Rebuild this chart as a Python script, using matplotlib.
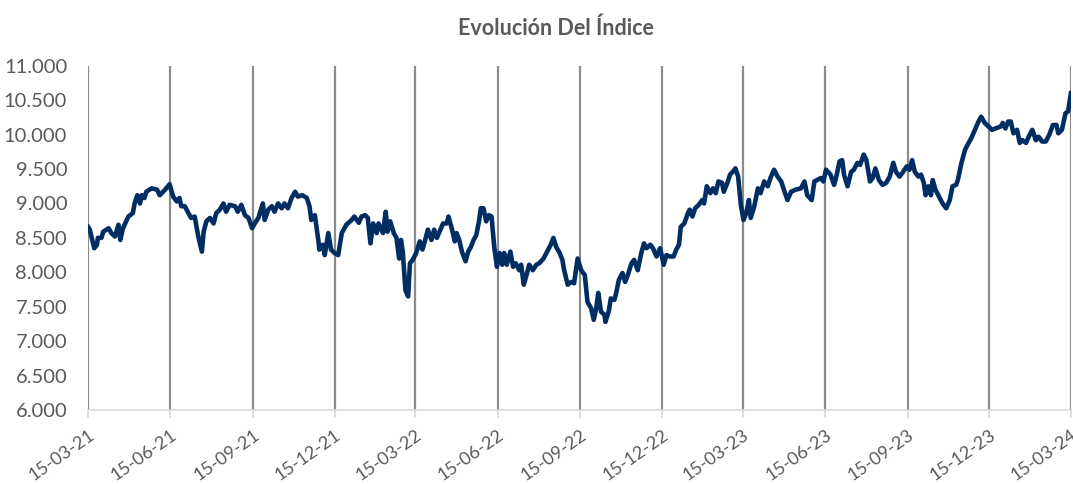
import matplotlib
matplotlib.use("Agg")
import matplotlib.pyplot as plt
from matplotlib.ticker import FuncFormatter
import pandas as pd

start_date = "2021-03-15"
end_date = "2024-03-15"

# days after 15-03-21
days = [0, 2, 7, 10, 11, 15, 17, 23, 26, 30, 34, 36, 39, 45, 50, 52, 55, 58, 60, 63,
        65, 71, 77, 80, 86, 91, 95, 99, 102, 104, 108, 112, 115, 119, 123, 127, 129, 132, 136, 140,
        143, 147, 151, 154, 158, 164, 167, 171, 175, 179, 183, 186, 190, 195, 197, 201, 205, 208, 212, 216,
        219, 223, 227, 231, 234, 239, 244, 247, 249, 253, 257, 258, 262, 264, 268, 271, 275, 279, 283, 288,
        294, 297, 302, 305, 309, 312, 315, 318, 322, 324, 329, 332, 334, 337, 341, 344, 347, 349, 351, 354,
        357, 359, 362, 366, 370, 373, 376, 379, 383, 386, 389, 392, 396, 400, 402, 406, 409, 411, 414, 417,
        421, 424, 427, 430, 433, 436, 438, 441, 444, 447, 450, 453, 456, 459, 462, 464, 467, 471, 474, 477,
        481, 483, 486, 489, 492, 496, 500, 503, 508, 512, 516, 519, 522, 526, 529, 531, 535, 539, 542, 546,
        550, 554, 557, 561, 564, 567, 569, 572, 576, 577, 581, 583, 587, 589, 592, 596, 599, 602, 606, 609,
        613, 617, 620, 623, 627, 630, 634, 638, 642, 645, 649, 653, 656, 659, 661, 665, 669, 671, 674, 677,
        681, 685, 687, 690, 694, 697, 700, 703, 707, 709, 713, 716, 719, 722, 725, 728, 731, 734, 737, 739,
        743, 747, 750, 754, 758, 761, 765, 769, 773, 776, 780, 784, 789, 795, 799, 802, 807, 810, 813, 817,
        820, 823, 828, 832, 835, 838, 841, 843, 847, 851, 854, 858, 861, 865, 868, 872, 875, 878, 882, 886,
        890, 894, 898, 901, 905, 909, 913, 916, 919, 922, 926, 929, 932, 934, 937, 940, 942, 945, 949, 953,
        957, 961, 964, 968, 970, 974, 978, 982, 985, 989, 993, 996, 1000, 1004, 1008, 1012, 1018, 1020, 1023, 1026,
        1029, 1032, 1036, 1039, 1042, 1046, 1049, 1053, 1057, 1060, 1064, 1068, 1072, 1076, 1080, 1082, 1086, 1090, 1093, 1096]

values = [8660, 8620, 8350, 8400, 8500, 8500, 8590, 8640, 8570, 8520, 8690, 8470, 8640, 8810, 8860, 9000, 9120, 9000, 9120, 9080,
          9170, 9220, 9200, 9120, 9200, 9280, 9100, 9030, 9080, 8960, 8960, 8860, 8790, 8810, 8520, 8300, 8590, 8740, 8790, 8710,
          8860, 8910, 9000, 8880, 8980, 8960, 8880, 8980, 8830, 8790, 8640, 8710, 8790, 9000, 8760, 8910, 8960, 8880, 9000, 8930,
          9000, 8930, 9080, 9170, 9100, 9120, 9080, 8960, 8760, 8830, 8450, 8330, 8400, 8250, 8570, 8330, 8280, 8250, 8570, 8690,
          8760, 8810, 8720, 8810, 8830, 8790, 8420, 8710, 8570, 8710, 8570, 8880, 8590, 8740, 8570, 8500, 8200, 8470, 8300, 7740,
          7650, 8130, 8180, 8280, 8450, 8330, 8470, 8620, 8470, 8620, 8500, 8590, 8710, 8710, 8810, 8620, 8450, 8570, 8470, 8300,
          8160, 8300, 8370, 8470, 8540, 8740, 8930, 8930, 8740, 8830, 8810, 8370, 8080, 8280, 8110, 8280, 8110, 8300, 8080, 8130,
          8030, 8110, 7820, 7960, 8110, 8030, 8110, 8130, 8200, 8300, 8400, 8500, 8370, 8280, 8180, 8030, 7820, 7860, 7840, 8200,
          8030, 7960, 7570, 7480, 7310, 7500, 7700, 7430, 7380, 7280, 7450, 7620, 7600, 7700, 7890, 7990, 7860, 7960, 8130, 8180,
          8030, 8280, 8420, 8350, 8400, 8350, 8230, 8350, 8110, 8250, 8230, 8230, 8330, 8400, 8660, 8710, 8860, 8910, 8810, 8930,
          8980, 9050, 9000, 9250, 9150, 9220, 9150, 9320, 9300, 9170, 9300, 9420, 9460, 9510, 9390, 8980, 8760, 8860, 9050, 8790,
          8960, 9220, 9150, 9320, 9250, 9370, 9490, 9390, 9320, 9200, 9050, 9170, 9200, 9220, 9320, 9120, 9050, 9320, 9340, 9370,
          9320, 9490, 9420, 9270, 9420, 9610, 9630, 9420, 9250, 9460, 9490, 9590, 9560, 9710, 9630, 9320, 9370, 9510, 9340, 9270,
          9300, 9390, 9590, 9460, 9390, 9460, 9540, 9490, 9630, 9460, 9390, 9420, 9300, 9120, 9250, 9120, 9340, 9200, 9100, 9000,
          8930, 9050, 9250, 9270, 9340, 9590, 9780, 9880, 9950, 10070, 10190, 10260, 10170, 10120, 10070, 10090, 10120, 10170, 10090, 10190,
          10190, 10020, 10070, 9880, 9920, 9880, 9970, 10070, 9920, 9970, 9900, 9900, 10000, 10140, 10140, 10020, 10070, 10310, 10340, 10600]

tick_dates = ["2021-03-15", "2021-06-15", "2021-09-15", "2021-12-15", "2022-03-15", "2022-06-15",
              "2022-09-15", "2022-12-15", "2023-03-15", "2023-06-15", "2023-09-15", "2023-12-15", "2024-03-15"]
y_ticks = [6000, 6500, 7000, 7500, 8000, 8500, 9000, 9500, 10000, 10500, 11000]
title = "Evolución Del Índice"

text_color = "#595959"
line_color = "#002d62"
plt.rcParams["font.family"] = ["Lato", "DejaVu Sans"]

dates = pd.Timestamp(start_date) + pd.to_timedelta(days, unit="D")
ticks = pd.to_datetime(tick_dates)

fig = plt.figure(figsize=(10.73, 4.84), dpi=100)
ax = fig.add_axes([0.082, 0.153, 0.916, 0.711])

for t in ticks:
    ax.axvline(t, color="#8c8c8c", lw=1.6, zorder=1)

ax.plot(dates, values, color=line_color, lw=3.3, solid_joinstyle="round", zorder=3)

ax.set_xlim(pd.Timestamp(start_date), pd.Timestamp(end_date))
ax.set_ylim(6000, 11000)
ax.set_yticks(y_ticks)
ax.yaxis.set_major_formatter(FuncFormatter(lambda v, p: f"{int(v):,}".replace(",", ".")))
ax.set_xticks(ticks)
ax.set_xticklabels([t.strftime("%d-%m-%y") for t in ticks], rotation=35, ha="right",
                   rotation_mode="anchor")

for s in ["top", "right", "left"]:
    ax.spines[s].set_visible(False)
ax.spines["bottom"].set_color("#d9d9d9")
ax.spines["bottom"].set_linewidth(1.2)
ax.tick_params(axis="y", length=0, labelsize=14.5, labelcolor=text_color, pad=15)
ax.tick_params(axis="x", length=6, color="#d9d9d9", width=1.2, labelsize=13, labelcolor=text_color, pad=6)

fig.text(0.518, 0.942, title, ha="center", va="center", fontsize=15.5, fontweight="bold", color=text_color)

fig.savefig("out.png", dpi=100, facecolor="white")
